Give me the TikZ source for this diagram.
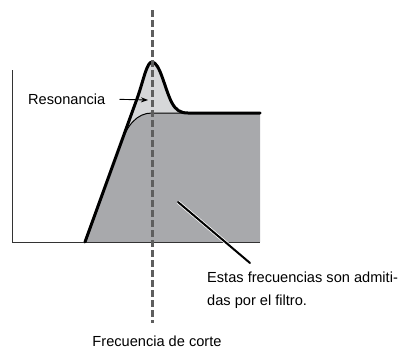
\documentclass[tikz,border=0pt]{standalone}
\usepackage{fontspec}
\setmainfont{Liberation Sans}
\usetikzlibrary{arrows.meta}
\definecolor{darkfill}{HTML}{A8A9AC}
\definecolor{lightfill}{HTML}{D6D7D9}
\definecolor{dashgray}{HTML}{5E5E5E}
\tikzset{
  lbl/.style={font=\fontsize{14.6}{23}\selectfont, inner sep=0pt, align=left},
  thickcurve/.style={line width=3pt, line join=round, line cap=round},
  thincurve/.style={line width=1pt},
  axisline/.style={line width=1pt, draw=black!80},
  cutline/.style={draw=dashgray, line width=3pt, dash pattern=on 6.5pt off 3.5pt},
}
\begin{document}
\begin{tikzpicture}[x=1pt,y=-1pt]
\useasboundingbox (0,0) rectangle (403,351);
% fills
\fill[darkfill] (85,242) -- (120.2,145) .. controls (127,125) and (137,113) .. (152,113) -- (260,113) -- (260,242) -- cycle;
\fill[lightfill] (120.2,145) -- (138,96) .. controls (144,78) and (147,62) .. (152,62) .. controls (160,62) and (165,90) .. (172,103) .. controls (176,110) and (180,113) .. (188,113) -- (152,113) .. controls (137,113) and (127,125) .. (120.2,145) -- cycle;
% axes
\draw[axisline] (12,70) -- (12,242) -- (260,242);
% thin inner curve
\draw[thincurve] (120.2,145) .. controls (127,125) and (137,113) .. (152,113) -- (188,113);
% thick response
\draw[thickcurve] (85,242) -- (138,96) .. controls (144,78) and (147,62) .. (152,62) .. controls (160,62) and (165,90) .. (172,103) .. controls (176,110) and (180,113) .. (188,113) -- (260,113);
% cutoff dashed line
\coordinate (cuttop) at (152,10);
\coordinate (cutbot) at (152,323);
\draw[cutline] (cuttop) -- (cutbot);
% labels
\node[lbl, anchor=west] (res) at (28,99) {Resonancia};
\coordinate (restip) at (148,100);
\draw[line width=0.9pt, -{Stealth[length=7pt,width=5pt]}, shorten <=14pt] (res.east) -- (restip);
\node[lbl, anchor=north west] (est) at (207,272) {Estas frecuencias son admiti-\\das por el filtro.};
\coordinate (leadstart) at (178,202);
\coordinate (leadend) at (250,263);
\draw[white, line width=3.5pt] (leadstart) -- (leadend);
\draw[line width=2pt, line cap=round] (leadstart) -- (leadend);
\node[lbl, anchor=center] (fc) at (157,341) {Frecuencia de corte};
\end{tikzpicture}
\end{document}
